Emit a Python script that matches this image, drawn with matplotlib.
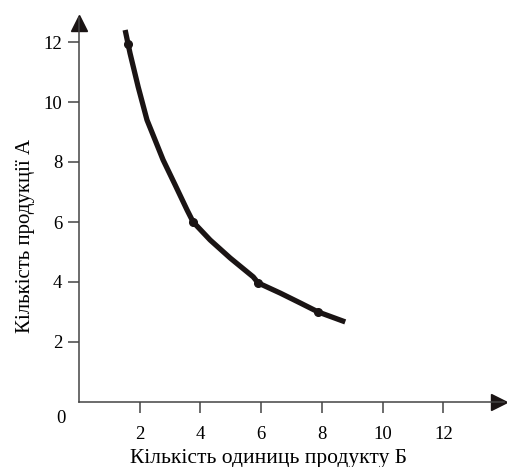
import matplotlib.pyplot as plt

# points (units of product B, units of product A)
curve_x = [1.52, 1.68, 1.95, 2.24, 2.44, 2.77, 3.17, 3.56, 3.76, 4.32, 4.98,
           5.74, 5.9, 6.63, 7.29, 7.88, 8.77]
curve_y = [12.4, 11.63, 10.5, 9.4, 8.9, 8.07, 7.23, 6.4, 6.0, 5.4, 4.8,
           4.17, 3.97, 3.63, 3.3, 3.0, 2.67]

# marked combinations on the curve
dot_x = [1.62, 3.76, 5.9, 7.88]
dot_y = [11.93, 6.0, 3.97, 3.0]

ticks = [2, 4, 6, 8, 10, 12]

plt.rcParams['font.family'] = ['Liberation Serif', 'DejaVu Serif']

fig = plt.figure(figsize=(5.07, 4.67), dpi=100)
ax = fig.add_axes([79 / 507, 65 / 467, 425 / 507, 384 / 467])
ax.set_xlim(0, 14)
ax.set_ylim(0, 12.8)

ax.plot(curve_x, curve_y, color='#1a1414', lw=3.8, solid_capstyle='butt',
        solid_joinstyle='round')
ax.plot(dot_x, dot_y, 'o', color='#1a1414', ms=5.5)

for s in ['top', 'right']:
    ax.spines[s].set_visible(False)
for s in ['left', 'bottom']:
    ax.spines[s].set_color('#444444')
    ax.spines[s].set_linewidth(1.1)

# arrow heads at the ends of the axes
ax.plot(13.85, 0, '>', color='#1a1414', ms=12, clip_on=False)
ax.plot(0, 12.65, '^', color='#1a1414', ms=12, clip_on=False)

ax.set_xticks(ticks)
ax.set_yticks(ticks)
ax.tick_params(axis='x', direction='out', length=8, width=1.1, color='#444444',
               pad=9, labelsize=13.5)
ax.tick_params(axis='y', direction='out', length=8, width=1.1, color='#444444',
               pad=4, labelsize=13.5)

ax.text(-0.6, -0.55, '0', ha='center', va='center', fontsize=13.5)
ax.set_xlabel('Кількість одиниць продукту Б', fontsize=15.5)
ax.set_ylabel('Кількість продукції А', fontsize=15)
ax.xaxis.set_label_coords(0.447, -0.146)
ax.xaxis.label.set_verticalalignment('center')
ax.yaxis.set_label_coords(-0.127, 0.432)
ax.yaxis.label.set_verticalalignment('center')

plt.savefig('out.png', dpi=100)
